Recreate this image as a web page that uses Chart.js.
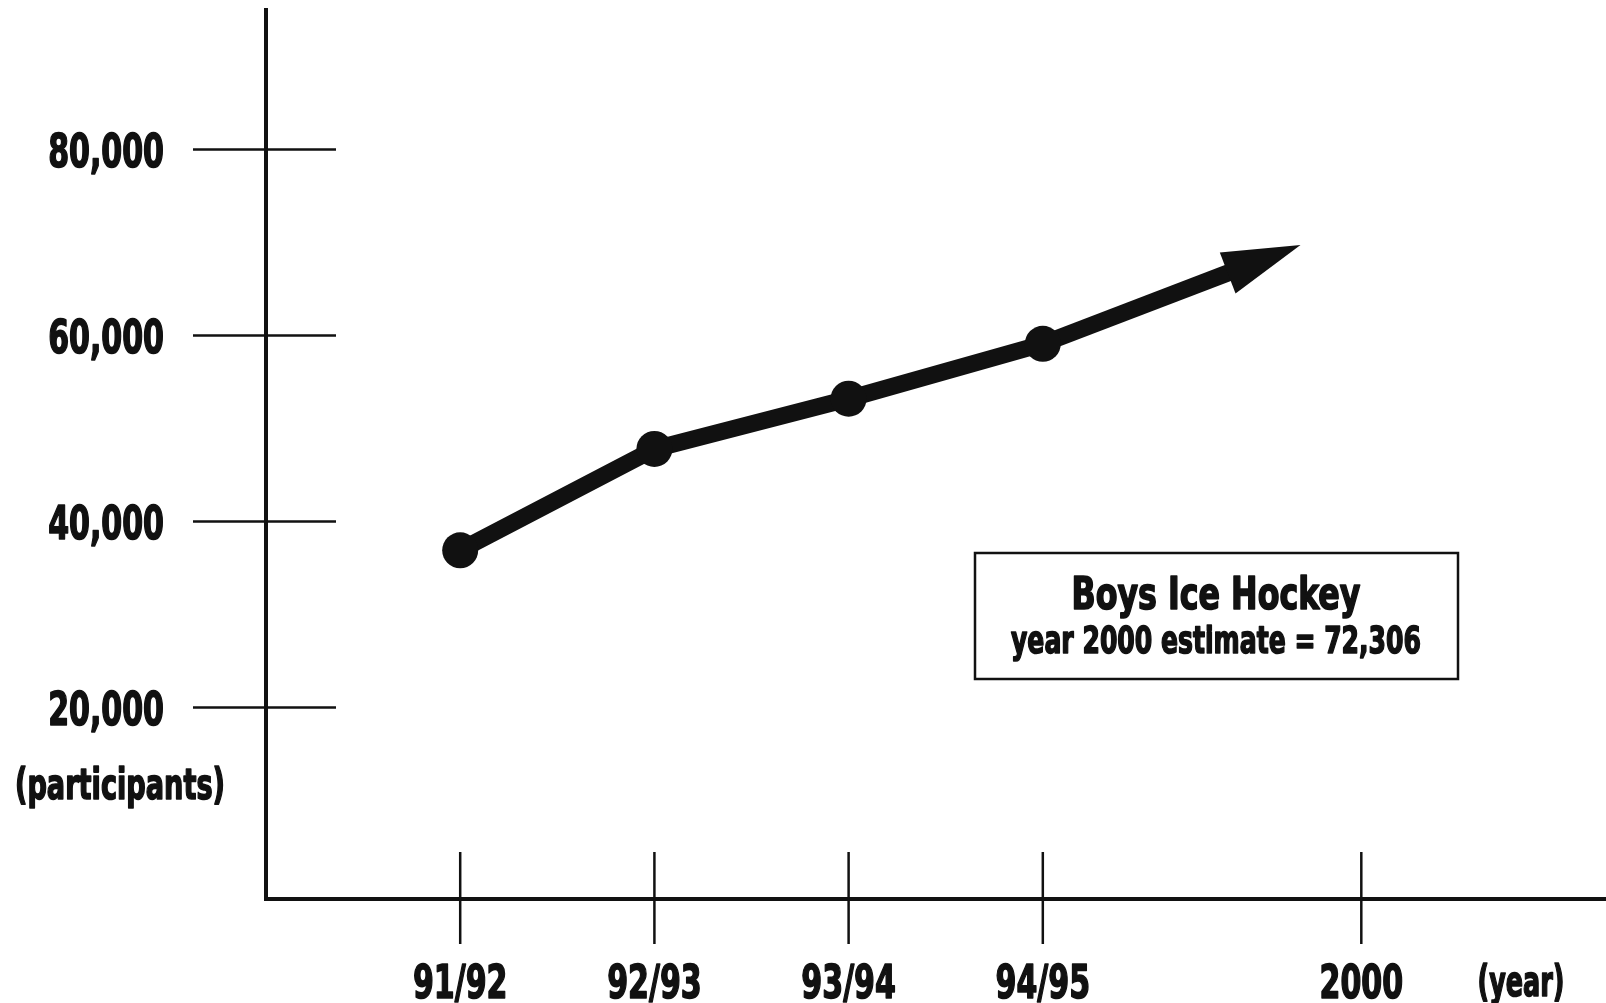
<!DOCTYPE html>
<html>
<head>
<meta charset="utf-8">
<script src="https://cdn.jsdelivr.net/npm/chart.js@4"></script>
<style>
  html, body { margin: 0; padding: 0; background: #fff; }
  #wrap { width: 1606px; height: 1003px; }
</style>
</head>
<body>
<div id="wrap"><canvas id="myChart" width="1606" height="1003"></canvas></div>
<script>
// season positions on the hand drawn axis (2000 sits closer than a linear scale would put it)
const seasons = ['91/92', '92/93', '93/94', '94/95'];
const seasonPos = [0, 1, 2, 3];
const participants = [36900, 47800, 53200, 59100];

// projection toward the year 2000 estimate, as far as the arrow reaches
const projectionPos = [3, 4.0];
const projectionVals = [59100, 67100];

const xTickPos = [0, 1, 2, 3, 4.64];
const xTickLabels = ['91/92', '92/93', '93/94', '94/95', '2000'];
const yTicks = [20000, 40000, 60000, 80000];

const boxTitle = 'Boys Ice Hockey';
const boxText = 'year 2000 estimate = 72,306';
const yUnit = '(participants)';
const xUnit = '(year)';

const FONT = '"DejaVu Sans Condensed", "Liberation Sans Narrow", "DejaVu Sans", sans-serif';
const INK = '#111';
const TICK_SIZE = 47;
const TICK_SQUEEZE = 0.71;

// draw bold text squeezed horizontally, centred on the cap height at cy
function squeezed(ctx, text, x, cy, size, sx, align) {
  ctx.save();
  ctx.font = 'bold ' + size + 'px ' + FONT;
  ctx.textAlign = align;
  ctx.textBaseline = 'alphabetic';
  ctx.translate(x, cy + size * 0.365);
  ctx.scale(sx, 1);
  ctx.fillText(text, 0, 0);
  // a thin outline makes the face look heavier, like the printed original
  ctx.lineWidth = 1.6;
  ctx.lineJoin = 'round';
  ctx.strokeStyle = INK;
  ctx.strokeText(text, 0, 0);
  ctx.restore();
}

function fitted(ctx, text, x, cy, size, width) {
  ctx.save();
  ctx.font = 'bold ' + size + 'px ' + FONT;
  const w = ctx.measureText(text).width;
  ctx.restore();
  squeezed(ctx, text, x, cy, size, width / w, 'center');
}

const crossTicks = {
  id: 'crossTicks',
  afterDraw(chart) {
    const { ctx, scales: { x, y }, chartArea } = chart;
    ctx.save();
    ctx.strokeStyle = INK;
    ctx.fillStyle = INK;
    y.ticks.forEach((t) => {
      const py = y.getPixelForValue(t.value);
      ctx.lineWidth = 2.5;
      ctx.beginPath();
      ctx.moveTo(chartArea.left - 73, py);
      ctx.lineTo(chartArea.left + 70, py);
      ctx.stroke();
      squeezed(ctx, t.label, chartArea.left - 102, py, TICK_SIZE, TICK_SQUEEZE, 'right');
    });
    x.ticks.forEach((t) => {
      const px = x.getPixelForValue(t.value);
      ctx.lineWidth = 2.5;
      ctx.beginPath();
      ctx.moveTo(px, chartArea.bottom - 47);
      ctx.lineTo(px, chartArea.bottom + 45);
      ctx.stroke();
      squeezed(ctx, t.label, px, chartArea.bottom + 82, TICK_SIZE, TICK_SQUEEZE, 'center');
    });

    // arrow head at the end of the projection
    const pts = chart.getDatasetMeta(1).data;
    const a = pts[0], b = pts[pts.length - 1];
    const ang = Math.atan2(b.y - a.y, b.x - a.x);
    const c = Math.cos(ang), s = Math.sin(ang);
    const len = 68, half = 22;
    ctx.beginPath();
    ctx.moveTo(b.x + c * len, b.y + s * len);
    ctx.lineTo(b.x - s * half - c * 10, b.y + c * half - s * 10);
    ctx.lineTo(b.x + s * half - c * 10, b.y - c * half - s * 10);
    ctx.closePath();
    ctx.fill();

    // unit labels
    fitted(ctx, yUnit, 120, 784, 42, 210);
    fitted(ctx, xUnit, 1521, 981, 42, 87);

    // estimate box
    ctx.lineWidth = 2.5;
    ctx.strokeRect(975, 553, 483, 126);
    fitted(ctx, boxTitle, 1216, 593, 44, 289);
    fitted(ctx, boxText, 1216, 639, 38, 410);
    ctx.restore();
  }
};

const ctx = document.getElementById('myChart').getContext('2d');
new Chart(ctx, {
  type: 'line',
  data: {
    datasets: [
      {
        label: 'Participants',
        data: seasonPos.map((p, i) => ({ x: p, y: participants[i] })),
        borderColor: INK,
        backgroundColor: INK,
        borderWidth: 17,
        borderJoinStyle: 'round',
        borderCapStyle: 'round',
        pointRadius: 18,
        pointBackgroundColor: INK,
        pointBorderWidth: 0,
        tension: 0,
        fill: false
      },
      {
        label: 'Projection',
        data: projectionPos.map((p, i) => ({ x: p, y: projectionVals[i] })),
        borderColor: INK,
        borderWidth: 17,
        borderCapStyle: 'butt',
        pointRadius: 0,
        tension: 0,
        fill: false
      }
    ]
  },
  options: {
    responsive: false,
    animation: false,
    layout: { autoPadding: false, padding: { top: 10, left: 0, right: 0, bottom: 0 } },
    plugins: {
      legend: { display: false },
      title: { display: false },
      tooltip: { enabled: false }
    },
    scales: {
      x: {
        type: 'linear',
        min: -1,
        max: 5.9,
        afterFit: (scale) => { scale.height = 104; },
        afterBuildTicks: (scale) => { scale.ticks = xTickPos.map((v) => ({ value: v })); },
        grid: { display: false, drawTicks: false },
        border: { display: true, color: INK, width: 4 },
        ticks: {
          color: 'rgba(0,0,0,0)',
          maxRotation: 0,
          autoSkip: false,
          font: { family: FONT, size: 10 },
          callback: (v) => {
            const i = xTickPos.indexOf(v);
            return i >= 0 ? xTickLabels[i] : '';
          }
        }
      },
      y: {
        min: -600,
        max: 95000,
        afterFit: (scale) => { scale.width = 266; },
        afterBuildTicks: (scale) => { scale.ticks = yTicks.map((v) => ({ value: v })); },
        grid: { display: false, drawTicks: false },
        border: { display: true, color: INK, width: 4 },
        ticks: {
          color: 'rgba(0,0,0,0)',
          font: { family: FONT, size: 10 },
          callback: (v) => v.toLocaleString('en-US')
        }
      }
    }
  },
  plugins: [crossTicks]
});
</script>
</body>
</html>
